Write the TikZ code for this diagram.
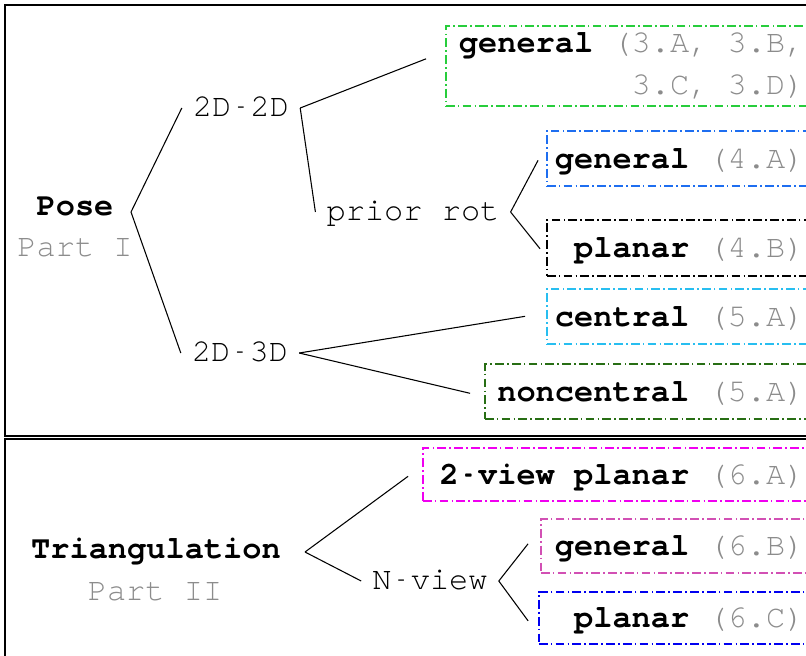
\documentclass[tikz,border=0pt,12pt]{standalone}
\usepackage{fontspec}
\setmonofont{TeX Gyre Cursor}

\definecolor{partgray}{RGB}{140,140,140}
\definecolor{leafgreen}{RGB}{40,205,60}
\definecolor{leafblue}{RGB}{30,110,240}
\definecolor{leafcyan}{RGB}{40,190,240}
\definecolor{leafdkgreen}{RGB}{40,110,20}
\definecolor{leafmagenta}{RGB}{240,0,240}
\definecolor{leafpink}{RGB}{210,80,180}
\definecolor{leafdkblue}{RGB}{0,0,240}

\newcommand{\refno}[1]{{\mdseries\color{partgray}#1}}
\newcommand{\hy}{\makebox[0.6em]{\scalebox{0.4}[1]{-}}}
\newcommand{\leaffont}{\ttfamily\bfseries\fontsize{12}{15.75}\selectfont}

\tikzset{
    lbl/.style={font=\ttfamily, text height=7pt, text depth=0.5pt},
    head/.style={lbl, font=\ttfamily\bfseries},
    part/.style={lbl, text=partgray},
    branch/.style={draw, line width=0.4pt},
    frame/.style={draw, line width=0.55pt},
    leaf/.style 2 args={draw=#1, line width=0.6pt,
        dash pattern=on 3.3pt off 1.2pt on 0.6pt off 1.2pt,
        anchor=north east, align=flush right, text width=#2,
        inner xsep=2.5pt, inner ysep=0pt, minimum height=20.625pt,
        text height=8pt, text depth=0.5pt, font=\leaffont}
}

\begin{document}
\begin{tikzpicture}[x=0.375pt, y=-0.375pt]
        \useasboundingbox (0,0) rectangle (806,655);
        \clip (0,0) rectangle (806,655);
        \draw[frame] (5,5) rectangle (815,436);
        \draw[frame] (5,439) rectangle (815,665);

        % Pose
        \node[head] (pose) at (75,207) {Pose};
        \node[part] (part1) at (75,248) {Part I};
        \coordinate (pose-fork) at (131,212);
        \node[lbl] (dd) at (241,108) {2D\hy2D};
        \node[lbl] (prior) at (413,212) {prior rot};
        \node[lbl] (dt) at (240,353) {2D\hy3D};
        \node[leaf={leafgreen}{132pt}, minimum height=30pt, text height=, text depth=] (ga) at (812,25)
            {general \refno{(3.A, 3.B,}\\ \refno{3.C, 3.D)}};
        \node[leaf={leafblue}{94.125pt}] (g4a) at (812,130) {general \refno{(4.A)}};
        \node[leaf={black}{94.125pt}, minimum height=21pt] (p4b) at (812,219) {planar \refno{(4.B)}};
        \node[leaf={leafcyan}{94.125pt}] (c5a) at (812,288) {central \refno{(5.A)}};
        \node[leaf={leafdkgreen}{117.375pt}] (n5a) at (812,363) {noncentral \refno{(5.A)}};

        % Triangulation
        \node[head] (tri) at (156,550) {Triangulation};
        \node[part] (part2) at (155,592) {Part II};
        \coordinate (tri-fork) at (305,552);
        \node[lbl] (nview) at (430,581) {N\hy view};
        \node[leaf={leafmagenta}{140.625pt}, minimum height=19.875pt] (v6a) at (812,447) {2\hy view planar \refno{(6.A)}};
        \node[leaf={leafpink}{96.375pt}, minimum height=20.25pt] (g6b) at (812,518) {general \refno{(6.B)}};
        \node[leaf={leafdkblue}{97.125pt}, minimum height=19.5pt] (p6c) at (812,591) {planar \refno{(6.C)}};

        \path[branch] (pose-fork) -- (dd.west);
        \path[branch] (pose-fork) -- (dt.west);
        \path[branch] (dd.east) -- ([shift={(-19,-7)}]ga.west);
        \path[branch] (dd.east) -- (prior.west);
        \path[branch] (prior.east) -- ([shift={(-8,2)}]g4a.west);
        \path[branch] (prior.east) -- ([shift={(-6,1)}]p4b.west);
        \path[branch] (dt.east) -- ([shift={(-21,0)}]c5a.west);
        \path[branch] (dt.east) -- ([shift={(-14,2)}]n5a.west);
        \path[branch] (tri-fork) -- ([shift={(-14,2)}]v6a.west);
        \path[branch] (tri-fork) -- (nview.west);
        \path[branch] (nview.east) -- ([shift={(-12,-2)}]g6b.west);
        \path[branch] (nview.east) -- ([shift={(-10,3)}]p6c.west);
    \end{tikzpicture}
\end{document}
